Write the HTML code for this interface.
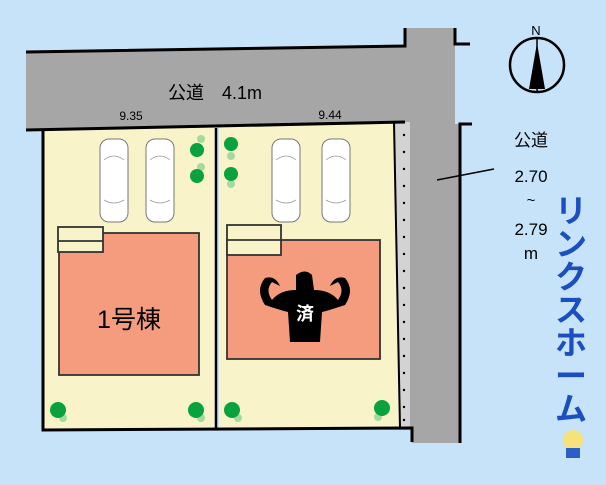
<!DOCTYPE html><html><head><meta charset="utf-8"><style>body{margin:0;background:#c7e3fa}svg{display:block}text{font-family:"Liberation Sans","Noto Sans CJK JP",sans-serif}</style></head><body>
<svg width="606" height="485" viewBox="0 0 606 485">
<rect width="606" height="485" fill="#c7e3fa"/>
<!-- roads -->
<polygon points="26,52 405,46 405,28 455,28 455,124 460,124 460,443 412,443 412,428 396,428 394,122 26,130" fill="#a6a6a6"/>
<polygon points="394,122 410,122 410,428 400,428" fill="#d3d3d3"/>
<!-- lots -->
<polygon points="43,130 216,127 216,430 43,430" fill="#f8f3c9"/>
<polygon points="219,127 394,122 400,428 219,429" fill="#f8f3c9"/>
<g stroke="#000" stroke-width="3" fill="none">
<polyline points="26,52 405,46 405,28"/>
<polyline points="455,28 455,44 470,44"/>
<polyline points="26,130 405,122"/>
<polyline points="472,124 460,124 460,443"/>
<polyline points="43,130 43,430 412,428 412,442"/>
<line x1="216" y1="128" x2="216" y2="430" stroke-width="2.5"/>
<line x1="394" y1="122" x2="400" y2="428" stroke-width="2"/>
</g>
<g fill="#000"><circle cx="404" cy="135" r="1.2"/><circle cx="404" cy="152" r="1.2"/><circle cx="404" cy="169" r="1.2"/><circle cx="404" cy="186" r="1.2"/><circle cx="404" cy="203" r="1.2"/><circle cx="404" cy="220" r="1.2"/><circle cx="404" cy="237" r="1.2"/><circle cx="404" cy="254" r="1.2"/><circle cx="404" cy="271" r="1.2"/><circle cx="404" cy="288" r="1.2"/><circle cx="404" cy="305" r="1.2"/><circle cx="404" cy="322" r="1.2"/><circle cx="404" cy="339" r="1.2"/><circle cx="404" cy="356" r="1.2"/><circle cx="404" cy="373" r="1.2"/><circle cx="404" cy="390" r="1.2"/><circle cx="404" cy="407" r="1.2"/><circle cx="404" cy="420" r="1.2"/></g>
<!-- houses -->
<g stroke="#333" stroke-width="1.8">
<rect x="59" y="233" width="140" height="142" fill="#f59c7f"/>
<rect x="58" y="227" width="45" height="25" fill="#f8f3c9"/><line x1="58" y1="241" x2="103" y2="241"/>
<rect x="227" y="240" width="153" height="119" fill="#f59c7f"/>
<rect x="227" y="225" width="54" height="30" fill="#f8f3c9"/><line x1="227" y1="240" x2="281" y2="240"/>
</g>
<!-- cars -->
<g fill="#fff" stroke="#777" stroke-width="1">
<rect x="100" y="139" width="28" height="83" rx="9"/><rect x="146" y="139" width="28" height="83" rx="9"/>
<rect x="272" y="139" width="28" height="83" rx="9"/><rect x="322" y="139" width="28" height="83" rx="9"/>
</g>
<g fill="none" stroke="#999" stroke-width="0.8">
<path d="M104,160 Q114,152 124,160 M104,200 Q114,206 124,200"/><path d="M150,160 Q160,152 170,160 M150,200 Q160,206 170,200"/>
<path d="M276,160 Q286,152 296,160 M276,200 Q286,206 296,200"/><path d="M326,160 Q336,152 346,160 M326,200 Q336,206 346,200"/>
</g>
<!-- trees -->
<g fill="#a6d9a0"><circle cx="201" cy="139" r="4"/><circle cx="201" cy="167" r="4"/><circle cx="231" cy="156" r="4"/><circle cx="231" cy="184" r="4"/><circle cx="63" cy="418" r="4"/><circle cx="201" cy="418" r="4"/><circle cx="238" cy="418" r="4"/><circle cx="378" cy="417" r="4"/></g>
<g fill="#0aa23f"><circle cx="197" cy="150" r="7"/><circle cx="197" cy="176" r="7"/><circle cx="231" cy="144" r="7"/><circle cx="231" cy="174" r="7"/><circle cx="58" cy="410" r="8"/><circle cx="196" cy="410" r="8"/><circle cx="232" cy="410" r="8"/><circle cx="382" cy="408" r="8"/></g>
<!-- muscle figure -->
<g fill="#000">
<path d="M296,275 Q305,268 312,275 L314,290 Q330,290 338,300 Q345,290 338,282 L330,286 Q335,275 345,278 Q355,290 345,305 Q330,310 322,312 L320,342 L290,342 L288,312 Q280,310 265,305 Q255,290 265,278 Q275,275 280,286 L272,282 Q265,290 272,300 Q280,290 296,290 Z"/>
</g>
<text x="305" y="320" font-size="18" fill="#fff" text-anchor="middle" font-weight="bold">済</text>
<!-- texts -->
<text x="215" y="99" font-size="18" text-anchor="middle">公道　4.1m</text>
<text x="131" y="120" font-size="12" text-anchor="middle">9.35</text>
<text x="330" y="119" font-size="12" text-anchor="middle">9.44</text>
<text x="129" y="328" font-size="25" text-anchor="middle">1号棟</text>
<line x1="437" y1="180" x2="494" y2="169" stroke="#000" stroke-width="1.5"/>
<text x="531" y="146" font-size="17" text-anchor="middle">公道</text>
<text x="531" y="182" font-size="17" text-anchor="middle">2.70</text>
<text x="531" y="205" font-size="15" text-anchor="middle">~</text>
<text x="531" y="235" font-size="17" text-anchor="middle">2.79</text>
<text x="531" y="259" font-size="17" text-anchor="middle">m</text>
<!-- compass -->
<circle cx="537" cy="65" r="27" fill="none" stroke="#000" stroke-width="2.5"/>
<polygon points="537,43 529,89 545,89" fill="#000"/>
<line x1="537" y1="38" x2="537" y2="92" stroke="#000" stroke-width="1.5"/>
<text x="536" y="35" font-size="13" text-anchor="middle">N</text>
<!-- logo -->
<g font-size="32" font-weight="bold" fill="#1b4fbf" text-anchor="middle">
<text x="571" y="222">リ</text><text x="571" y="255">ン</text><text x="571" y="288">ク</text><text x="571" y="321">ス</text><text x="571" y="354">ホ</text><text x="571" y="387">ー</text><text x="571" y="420">ム</text>
</g>
<circle cx="573" cy="440" r="10" fill="#f6e27a"/><rect x="566" y="448" width="14" height="10" fill="#2c5fc6"/>
</svg></body></html>
